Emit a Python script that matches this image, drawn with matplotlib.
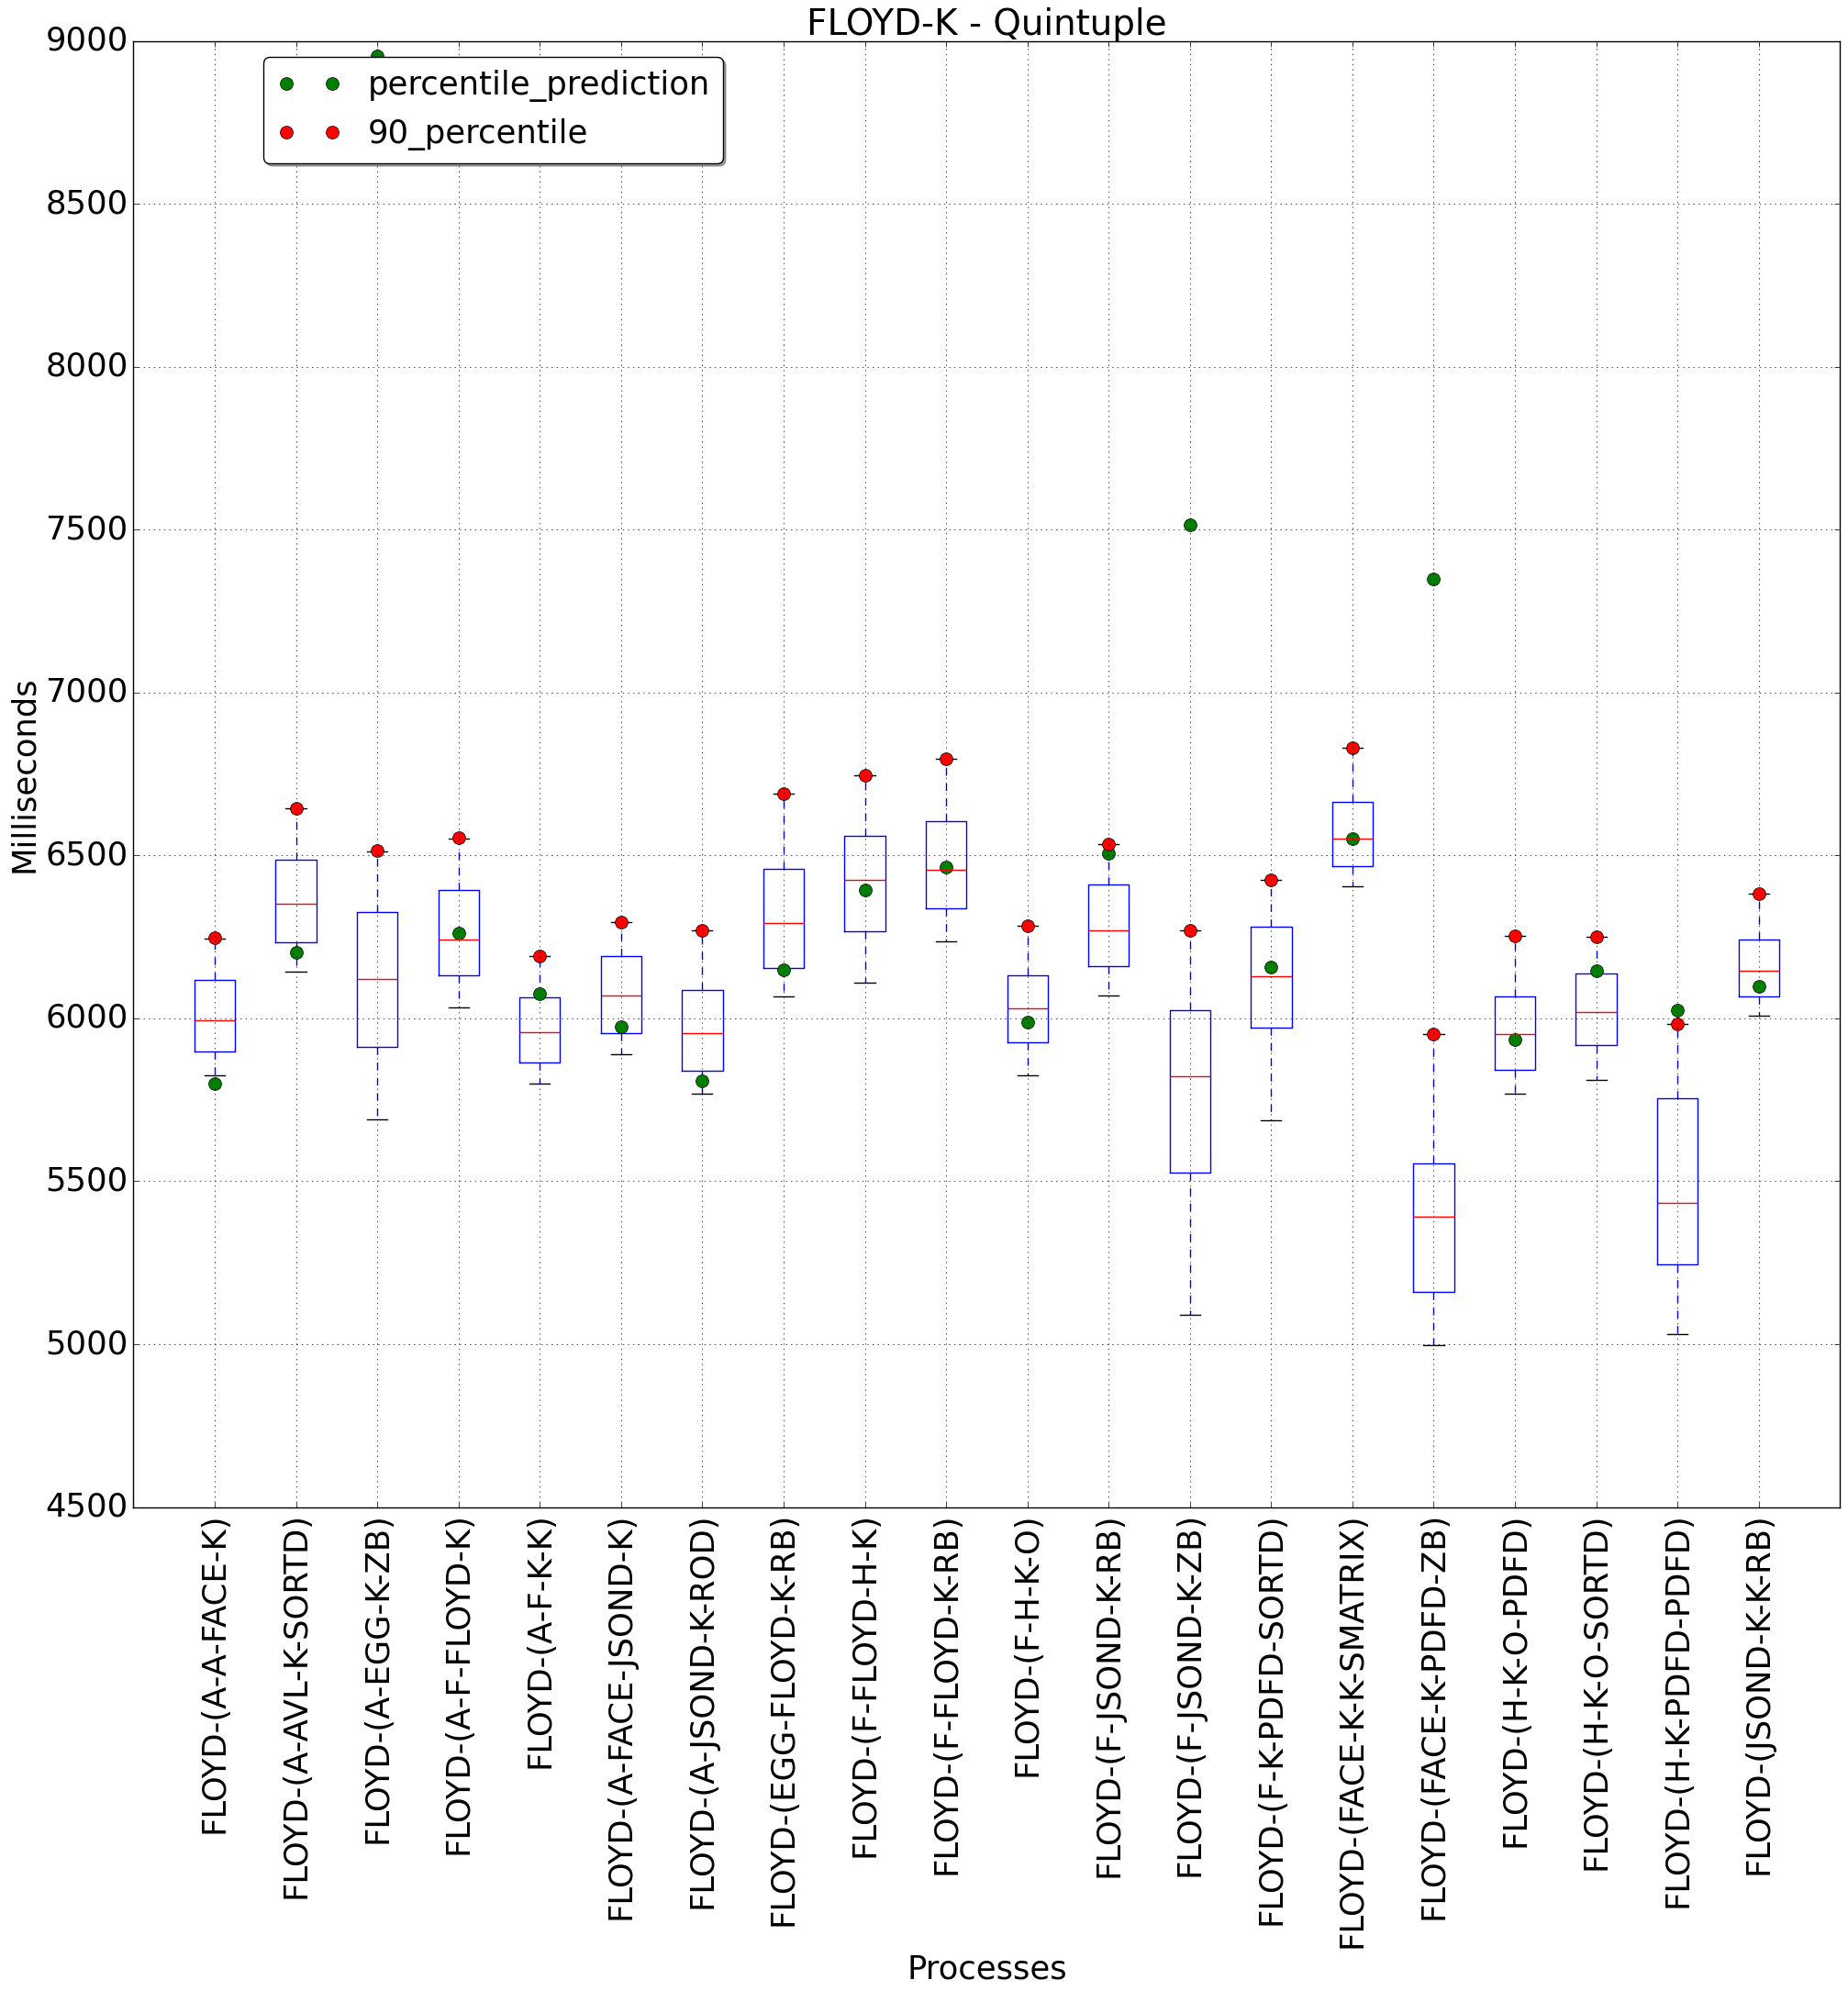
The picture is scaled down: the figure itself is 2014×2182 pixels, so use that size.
import matplotlib
matplotlib.use('Agg')
from matplotlib import pyplot as plt

plt.style.use('classic')
plt.rcParams['font.size'] = 25.5

processes = ['FLOYD-(A-A-FACE-K)', 'FLOYD-(A-AVL-K-SORTD)', 'FLOYD-(A-EGG-K-ZB)',
             'FLOYD-(A-F-FLOYD-K)', 'FLOYD-(A-F-K-K)', 'FLOYD-(A-FACE-JSOND-K)',
             'FLOYD-(A-JSOND-K-ROD)', 'FLOYD-(EGG-FLOYD-K-RB)', 'FLOYD-(F-FLOYD-H-K)',
             'FLOYD-(F-FLOYD-K-RB)', 'FLOYD-(F-H-K-O)', 'FLOYD-(F-JSOND-K-RB)',
             'FLOYD-(F-JSOND-K-ZB)', 'FLOYD-(F-K-PDFD-SORTD)', 'FLOYD-(FACE-K-K-SMATRIX)',
             'FLOYD-(FACE-K-PDFD-ZB)', 'FLOYD-(H-K-O-PDFD)', 'FLOYD-(H-K-O-SORTD)',
             'FLOYD-(H-K-PDFD-PDFD)', 'FLOYD-(JSOND-K-K-RB)']

# box statistics (ms)
whisker_low = [5824, 6144, 5689, 6034, 5801, 5890, 5770, 6066, 6110, 6236,
               5824, 6070, 5091, 5686, 6405, 4998, 5770, 5812, 5032, 6007]
q1 = [5899, 6233, 5913, 6132, 5865, 5955, 5840, 6154, 6267, 6337,
      5927, 6160, 5526, 5972, 6466, 5161, 5843, 5918, 5245, 6067]
medians = [5994, 6351, 6121, 6242, 5958, 6070, 5955, 6292, 6424, 6455,
           6031, 6270, 5823, 6129, 6553, 5391, 5952, 6020, 5433, 6146]
q3 = [6118, 6486, 6327, 6395, 6065, 6191, 6087, 6458, 6559, 6606,
      6131, 6410, 6025, 6281, 6663, 5554, 6067, 6138, 5756, 6242]
whisker_high = [6246, 6644, 6512, 6553, 6192, 6296, 6271, 6689, 6745, 6796,
                6285, 6536, 6270, 6425, 6831, 5952, 6254, 6250, 5984, 6382]

percentile_90 = [6247, 6644, 6515, 6554, 6192, 6296, 6271, 6689, 6745, 6796,
                 6285, 6536, 6270, 6425, 6831, 5952, 6254, 6250, 5984, 6382]
percentile_prediction = [5801, 6202, 8954, 6261, 6076, 5973, 5809, 6149, 6393, 6463,
                         5989, 6508, 7515, 6157, 6551, 7348, 5935, 6146, 6025, 6098]

positions = list(range(1, len(processes) + 1))

stats = []
for i in range(len(processes)):
    stats.append({'whislo': whisker_low[i], 'q1': q1[i], 'med': medians[i],
                  'q3': q3[i], 'whishi': whisker_high[i], 'fliers': [],
                  'label': processes[i]})

fig = plt.figure(figsize=(20.14, 21.82), dpi=100)
ax = fig.add_axes([0.0722, 0.2472, 0.9235, 0.7324])

ax.bxp(stats, positions=positions, widths=0.5, showfliers=False)

ax.plot(positions, percentile_prediction, 'o', color='g', markersize=10,
        markeredgecolor='k', markeredgewidth=0.5, label='percentile_prediction')
ax.plot(positions, percentile_90, 'o', color='r', markersize=10,
        markeredgecolor='k', markeredgewidth=0.5, label='90_percentile')

ax.set_xlim(0, 21)
ax.set_ylim(4500, 9000)
ax.set_xticks(positions)
ax.set_xticklabels(processes, rotation=90)
ax.grid(True)

ax.set_title('FLOYD-K - Quintuple', fontsize=28)
ax.set_xlabel('Processes')
ax.set_ylabel('Milliseconds')

ax.legend(loc='upper left', bbox_to_anchor=(0.0763, 0.989), borderaxespad=0,
          numpoints=2, fancybox=True, shadow=True, fontsize=25.5)

fig.savefig('out.png', dpi=100)
